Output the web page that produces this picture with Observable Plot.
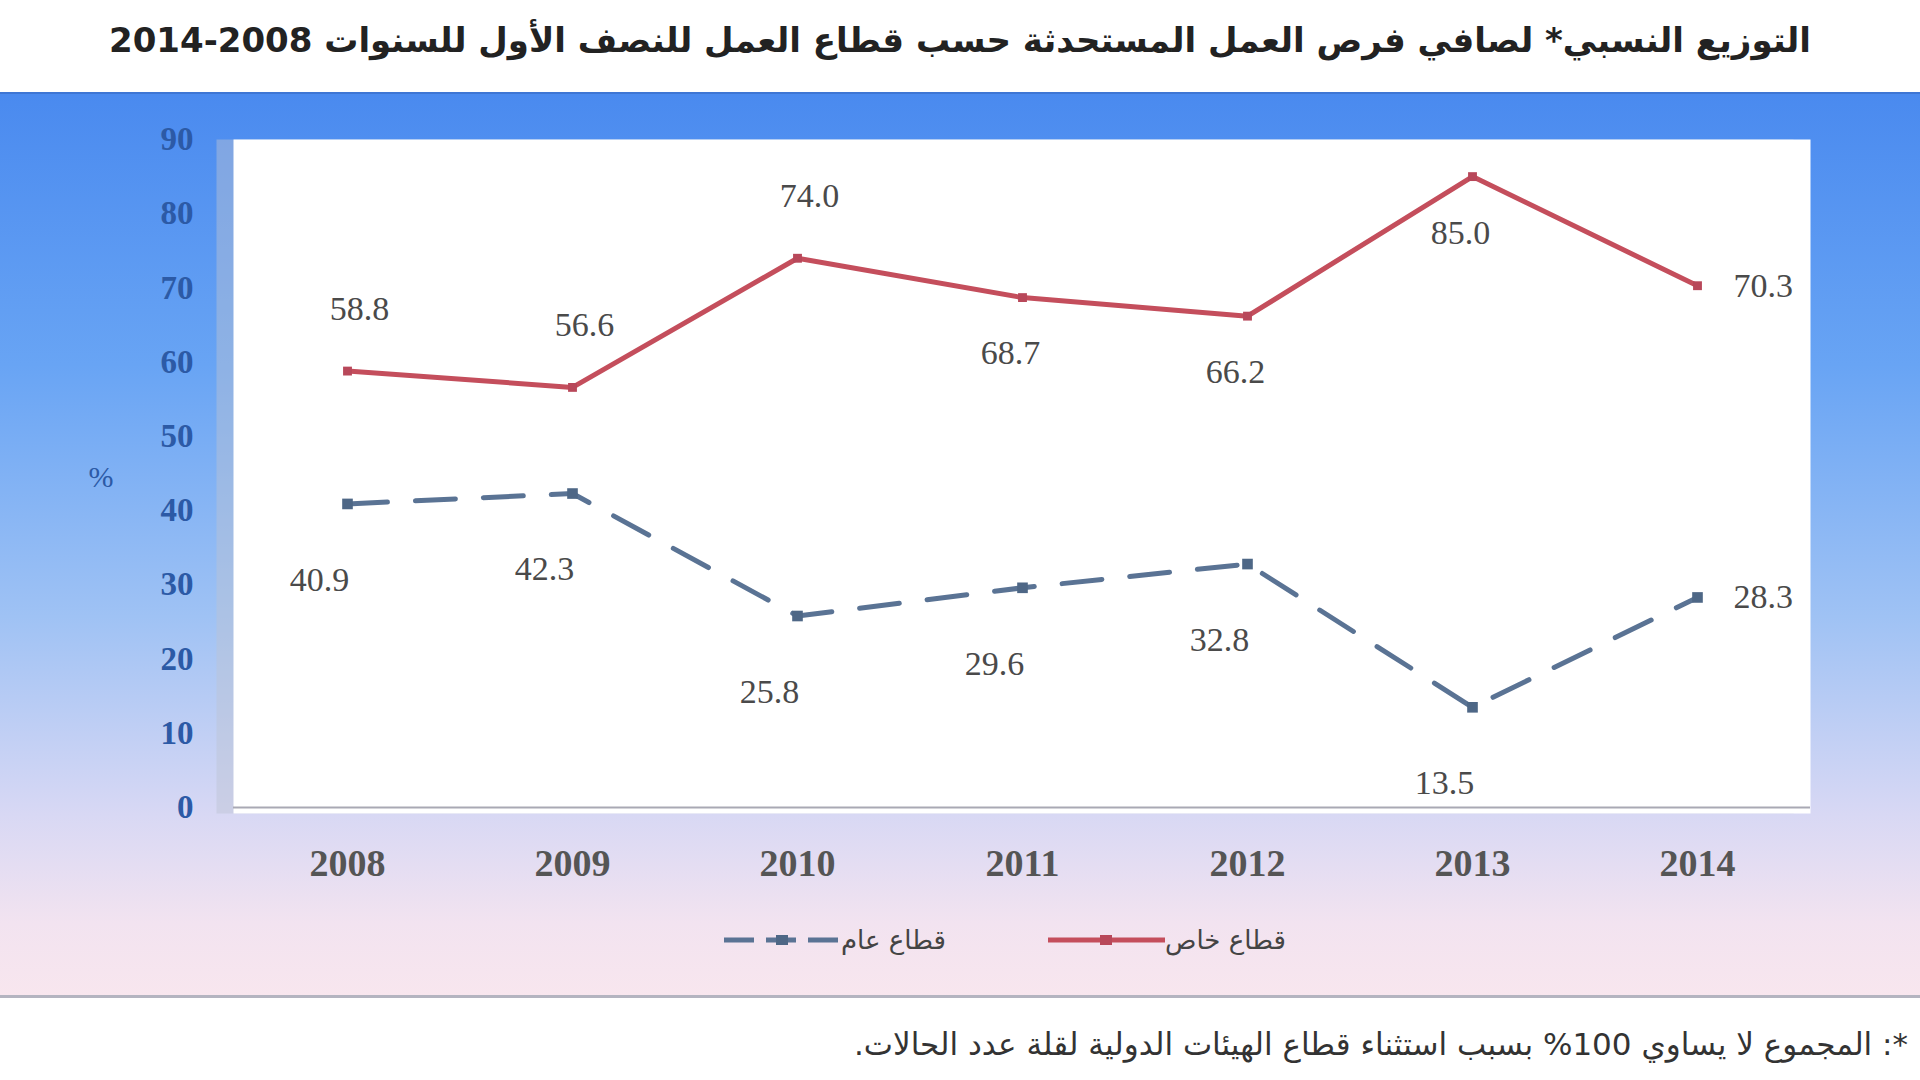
<!DOCTYPE html>
<html><head><meta charset="utf-8">
<script src="https://cdn.jsdelivr.net/npm/d3@7"></script>
<script src="https://cdn.jsdelivr.net/npm/@observablehq/plot@0.6"></script>
<style>
body{margin:0;width:1920px;height:1080px;background:#fff;position:relative;overflow:hidden;font-family:"DejaVu Sans",sans-serif}
#title{position:absolute;top:20px;left:0;width:1920px;text-align:center;font-weight:bold;font-size:34px;color:#222;direction:rtl;font-family:"DejaVu Sans",sans-serif}
#panel{position:absolute;top:92px;left:0;width:1920px;height:906px;
 background:linear-gradient(to bottom,#4a8aef 0%,#68a4f4 30%,#9fc2f4 58%,#d8d8f4 80%,#f2e3f0 92%,#f8e6ee 100%);
 border-top:2px solid #3e76d4;border-bottom:3px solid #b4b4c0;box-sizing:border-box}
#chart{position:absolute;top:0;left:0}
.leg{position:absolute;top:828px;height:36px;display:flex;align-items:center;font-size:26px;color:#444;direction:rtl}
#foot{position:absolute;top:1026px;right:12px;font-size:31px;color:#333;direction:rtl;white-space:nowrap}
</style></head>
<body>
<div id="title"></div>
<div id="panel"><div id="chart"></div>
<div class="leg" id="legPub" style="left:712px"></div>
<div class="leg" id="legPriv" style="left:1036px"></div>
</div>
<div id="foot"></div>
<script>
const years = ["2008","2009","2010","2011","2012","2013","2014"];
const privateSector = [58.8, 56.6, 74.0, 68.7, 66.2, 85.0, 70.3];
const publicSector = [40.9, 42.3, 25.8, 29.6, 32.8, 13.5, 28.3];
const yTicks = [0,10,20,30,40,50,60,70,80,90];
const seriesNames = ["قطاع عام","قطاع خاص"];
const titleText = "التوزيع النسبي* لصافي فرص العمل المستحدثة حسب قطاع العمل للنصف الأول للسنوات 2008-2014";
const footText = "*: المجموع لا يساوي 100% بسبب استثناء قطاع الهيئات الدولية لقلة عدد الحالات.";

// label placement relative to point
const privSide = ["above","above","above","below","below","below","right"];
const pubSide  = ["below","below","below","below","below","below","right"];

document.getElementById("title").textContent = titleText;
document.getElementById("foot").textContent = footText;

const priv = years.map((y,i)=>({year:y, value:privateSector[i], side:privSide[i]}));
const pub  = years.map((y,i)=>({year:y, value:publicSector[i], side:pubSide[i]}));

const privColor = "#c44e5c";
const pubColor = "#5a7394";
const labelFont = "Liberation Serif";

function labels(data, side, dy, dx){
  return Plot.text(data.filter(d=>d.side===side), {
    x:"year", y:"value", text:d=>d.value.toFixed(1),
    dy, dx, fontSize:34, fill:"#4a4a4a", fontFamily:labelFont,
    textAnchor: side==="right" ? "start" : "middle"
  });
}

const chart = Plot.plot({
  width:1920, height:906,
  marginLeft:233, marginRight:110, marginTop:45, marginBottom:193,
  style:{background:"transparent", fontFamily:labelFont},
  x:{type:"point", domain:years, padding:0.5},
  y:{domain:[0,90]},
  marks:[
    Plot.frame({fill:"#bcc3d3", fillOpacity:0.45, dx:-17, insetBottom:-6}),
    Plot.frame({fill:"white", insetBottom:-6}),
    Plot.ruleY([0], {stroke:"#a9a9b4", strokeWidth:2}),
    Plot.axisY({ticks:yTicks, tickSize:0, tickPadding:40, fontSize:33, fontWeight:"bold", fill:"#2c5aa6", fontFamily:labelFont, label:null}),
    Plot.axisX({tickSize:0, tickPadding:42, fontSize:38, fontWeight:"bold", fill:"#555", fontFamily:labelFont, label:null}),
    Plot.text(["%"], {frameAnchor:"left", dx:-145, dy:4, fontSize:30, fill:"#2c5aa6", fontFamily:labelFont}),
    Plot.line(pub, {x:"year", y:"value", stroke:pubColor, strokeWidth:5, strokeDasharray:"40,28"}),
    Plot.dot(pub, {x:"year", y:"value", symbol:"square", r:6, fill:"#4e6786"}),
    Plot.line(priv, {x:"year", y:"value", stroke:privColor, strokeWidth:5}),
    Plot.dot(priv, {x:"year", y:"value", symbol:"square", r:5, fill:"#b8485a"}),
    labels(priv,"above",-62,12),
    labels(priv,"below",56,-12),
    labels(priv,"right",0,36),
    labels(pub,"below",76,-28),
    labels(pub,"right",0,36)
  ]
});
document.getElementById("chart").appendChild(chart);

function legendItem(el, name, color, dash, dotFill){
  const svg = `<svg width="117" height="14" style="margin-left:12px;direction:ltr">
    <line x1="0" y1="7" x2="117" y2="7" stroke="${color}" stroke-width="5" ${dash?`stroke-dasharray="${dash}"`:""}/>
    <rect x="52" y="2" width="12" height="10" fill="${dotFill}"/></svg>`;
  el.innerHTML = `<span>${name}</span>` + svg;
}
legendItem(document.getElementById("legPub"), seriesNames[0], pubColor, "30,12", "#4e6786");
legendItem(document.getElementById("legPriv"), seriesNames[1], privColor, null, "#b8485a");
</script>
</body></html>
